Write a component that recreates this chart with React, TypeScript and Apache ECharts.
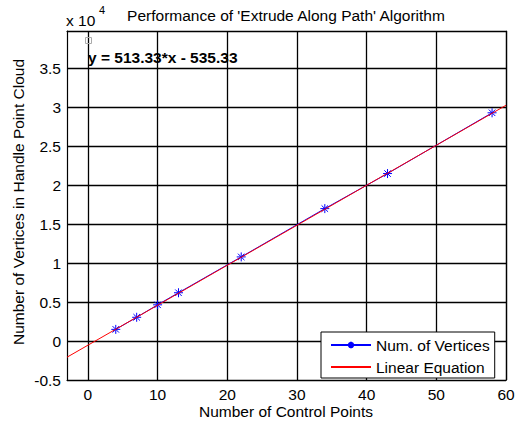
import React, { useEffect, useRef } from "react";
import * as echarts from "echarts";

const controlPoints = [4, 7, 10, 13, 22, 34, 43, 58];
const numVertices = [1500, 3050, 4650, 6200, 10800, 17000, 21500, 29300];
const fitX = [-3, 60];
const fitY = [-2075.3, 30264.5];
const xTicks = [0, 10, 20, 30, 40, 50, 60];
const FONT = "'Liberation Sans', Arial, sans-serif";

const asterisk =
  "path://M0,-5L0,5M-5,0L5,0M-3.6,-3.6L3.6,3.6M-3.6,3.6L3.6,-3.6";

export default function App() {
  const ref = useRef<HTMLDivElement>(null);
  useEffect(() => {
    if (!ref.current) return;
    const chart = echarts.init(ref.current, undefined, { renderer: "svg" });
    const axisCommon = {
      axisLine: { show: true, onZero: false, lineStyle: { color: "#000", width: 1.2 } },
      axisTick: { show: true, inside: true, length: 5, lineStyle: { color: "#000" } },
    };
    chart.setOption({
      animation: false,
      backgroundColor: "#fff",
      textStyle: { fontFamily: FONT },
      grid: { left: 67, right: 20, top: 31, bottom: 50, containLabel: false },
      xAxis: [
        {
          type: "value",
          min: -3,
          max: 60,
          position: "bottom",
          ...axisCommon,
          axisTick: { ...axisCommon.axisTick, customValues: xTicks },
          axisLabel: {
            customValues: xTicks,
            color: "#000",
            fontSize: 15.5,
            fontFamily: FONT,
            margin: 6,
          },
          splitLine: { show: true, lineStyle: { color: "#000", width: 1.3 } },
        },
        {
          type: "value",
          min: -3,
          max: 60,
          position: "top",
          ...axisCommon,
          axisTick: { ...axisCommon.axisTick, customValues: xTicks },
          axisLabel: { show: false },
          splitLine: { show: false },
        },
      ],
      yAxis: [
        {
          type: "value",
          min: -5000,
          max: 39800,
          interval: 5000,
          position: "left",
          ...axisCommon,
          axisLabel: {
            color: "#000",
            fontSize: 15.5,
            fontFamily: FONT,
            margin: 6,
            showMaxLabel: false,
            formatter: (v: number) => (v > 36000 ? "" : String(v / 10000)),
          },
          splitLine: { show: true, lineStyle: { color: "#000", width: 1.3 } },
        },
        {
          type: "value",
          min: -5000,
          max: 39800,
          interval: 5000,
          position: "right",
          ...axisCommon,
          axisLabel: { show: false },
          splitLine: { show: false },
        },
      ],
      legend: {
        orient: "vertical",
        left: 321,
        top: 332,
        padding: [5, 5, 3, 9],
        itemWidth: 40,
        itemHeight: 8,
        itemGap: 6,
        backgroundColor: "#fff",
        borderColor: "#000",
        borderWidth: 1,
        borderRadius: 0,
        textStyle: { color: "#000", fontSize: 15.5, fontFamily: FONT, lineHeight: 16 },
        data: [
          { name: "Num. of Vertices" },
          {
            name: "Linear Equation",
            itemStyle: { opacity: 0, color: "transparent", borderColor: "transparent" },
          },
        ],
      },
      series: [
        {
          name: "Num. of Vertices",
          type: "line",
          xAxisIndex: 0,
          yAxisIndex: 0,
          data: controlPoints.map((x, i) => [x, numVertices[i]]),
          symbol: asterisk,
          symbolSize: 9,
          lineStyle: { color: "#0000ff", width: 1 },
          itemStyle: { color: "none", borderColor: "#0000ff", borderWidth: 1 },
          z: 2,
        },
        {
          name: "Linear Equation",
          type: "line",
          xAxisIndex: 0,
          yAxisIndex: 0,
          data: fitX.map((x, i) => [x, fitY[i]]),
          symbol: "none",
          lineStyle: { color: "#ff0000", width: 1 },
          itemStyle: { color: "#ff0000" },
          z: 3,
        },
      ],
      graphic: [
        {
          type: "text",
          x: 286,
          y: 15,
          style: {
            text: "Performance of 'Extrude Along Path' Algorithm",
            fill: "#000",
            font: `15.5px ${FONT}`,
            textAlign: "center",
            textVerticalAlign: "middle",
          },
        },
        {
          type: "text",
          x: 66,
          y: 20,
          style: {
            text: "x 10",
            fill: "#000",
            font: `15.5px ${FONT}`,
            textAlign: "left",
            textVerticalAlign: "middle",
          },
        },
        {
          type: "text",
          x: 99,
          y: 10,
          style: {
            text: "4",
            fill: "#000",
            font: `11px ${FONT}`,
            textAlign: "left",
            textVerticalAlign: "middle",
          },
        },
        {
          type: "text",
          x: 18,
          y: 202,
          rotation: Math.PI / 2,
          style: {
            text: "Number of Vertices in Handle Point Cloud",
            fill: "#000",
            font: `15.5px ${FONT}`,
            textAlign: "center",
            textVerticalAlign: "middle",
          },
        },
        {
          type: "text",
          x: 286,
          y: 411,
          style: {
            text: "Number of Control Points",
            fill: "#000",
            font: `15.5px ${FONT}`,
            textAlign: "center",
            textVerticalAlign: "middle",
          },
        },
        {
          type: "text",
          x: 88,
          y: 57,
          z: 10,
          style: {
            text: "y = 513.33*x - 535.33",
            fill: "#000",
            font: `bold 15.5px ${FONT}`,
            textAlign: "left",
            textVerticalAlign: "middle",
          },
        },
        {
          type: "rect",
          z: 10,
          shape: { x: 85.5, y: 37.5, width: 6, height: 6 },
          style: { fill: "none", stroke: "#aaa", lineWidth: 1 },
        },
      ],
    });
    return () => chart.dispose();
  }, []);
  return (
    <div
      ref={ref}
      style={{ position: "absolute", left: 0, top: 0, width: 526, height: 430 }}
    />
  );
}
